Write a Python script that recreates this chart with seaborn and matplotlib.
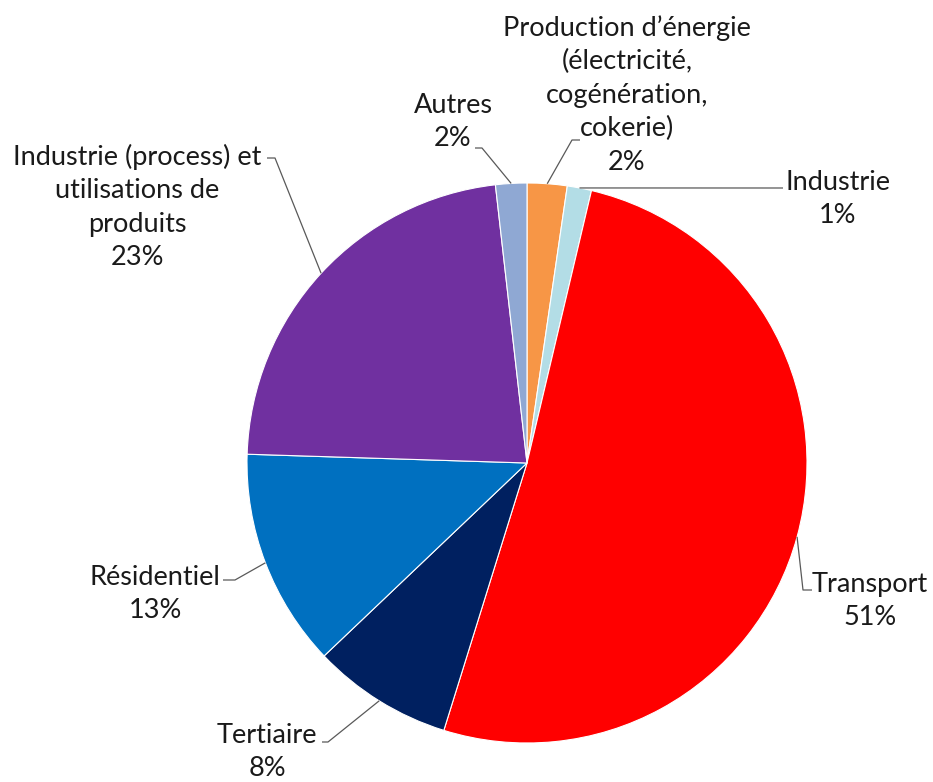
import matplotlib
matplotlib.use("Agg")
import matplotlib.pyplot as plt
import seaborn as sns
import numpy as np

sns.set_theme(style="white")
plt.rcParams['font.family'] = ['Lato', 'DejaVu Sans']

# Emission shares by sector (%), clockwise from 12 o'clock
sectors = [
    "Production d\u2019énergie\n(électricité,\ncogénération,\ncokerie)",
    "Industrie",
    "Transport",
    "Tertiaire",
    "Résidentiel",
    "Industrie (process) et\nutilisations de\nproduits",
    "Autres",
]
shares = [2.3, 1.4, 51.1, 8.1, 12.6, 22.7, 1.8]
colors = ["#F79646", "#B3DDE6", "#FF0000", "#002060", "#0070C0", "#7030A0", "#8FA8D3"]

# Label layout in figure pixels: text centre, leader kink, leader end
W, H = 933, 782
CX, CY, R = 527, 463, 280
layout = [
    ((627, 95), (572, 140), (580, 140)),
    ((838, 199), (783, 188), None),
    ((870, 601), (803, 590), (812, 590)),
    ((267, 752), (328, 742), (322, 742)),
    ((155, 594), (235, 580), (223, 580)),
    ((137, 207), (275, 158), (267, 158)),
    ((453, 122), (482, 148), (475, 148)),
]


def to_data(p):
    return ((p[0] - CX) / R, (CY - p[1]) / R)


fig = plt.figure(figsize=(W / 100, H / 100), dpi=100)
fig.patch.set_facecolor("white")
ax = fig.add_axes([(CX - R) / W, (H - CY - R) / H, 2 * R / W, 2 * R / H])

wedges, _ = ax.pie(
    shares,
    colors=colors,
    startangle=90,
    counterclock=False,
    radius=1,
    wedgeprops=dict(edgecolor="white", linewidth=0.8),
)
ax.set_xlim(-1, 1)
ax.set_ylim(-1, 1)
ax.axis("off")

for wedge, name, share, (txt, kink, end) in zip(wedges, sectors, shares, layout):
    mid = np.deg2rad((wedge.theta1 + wedge.theta2) / 2)
    ax_pt = (np.cos(mid), np.sin(mid))
    pts = [ax_pt, to_data(kink)] + ([to_data(end)] if end else [])
    xs, ys = zip(*pts)
    ax.plot(xs, ys, color="#595959", lw=0.9, clip_on=False, solid_capstyle="butt")
    tx, ty = to_data(txt)
    ax.text(
        tx, ty, f"{name}\n{share:.0f}%",
        ha="center", va="center", multialignment="center",
        fontsize=19.5, color="#1A1A1A", linespacing=1.42,
        clip_on=False,
    )

fig.savefig("out.png", dpi=100, facecolor="white")
